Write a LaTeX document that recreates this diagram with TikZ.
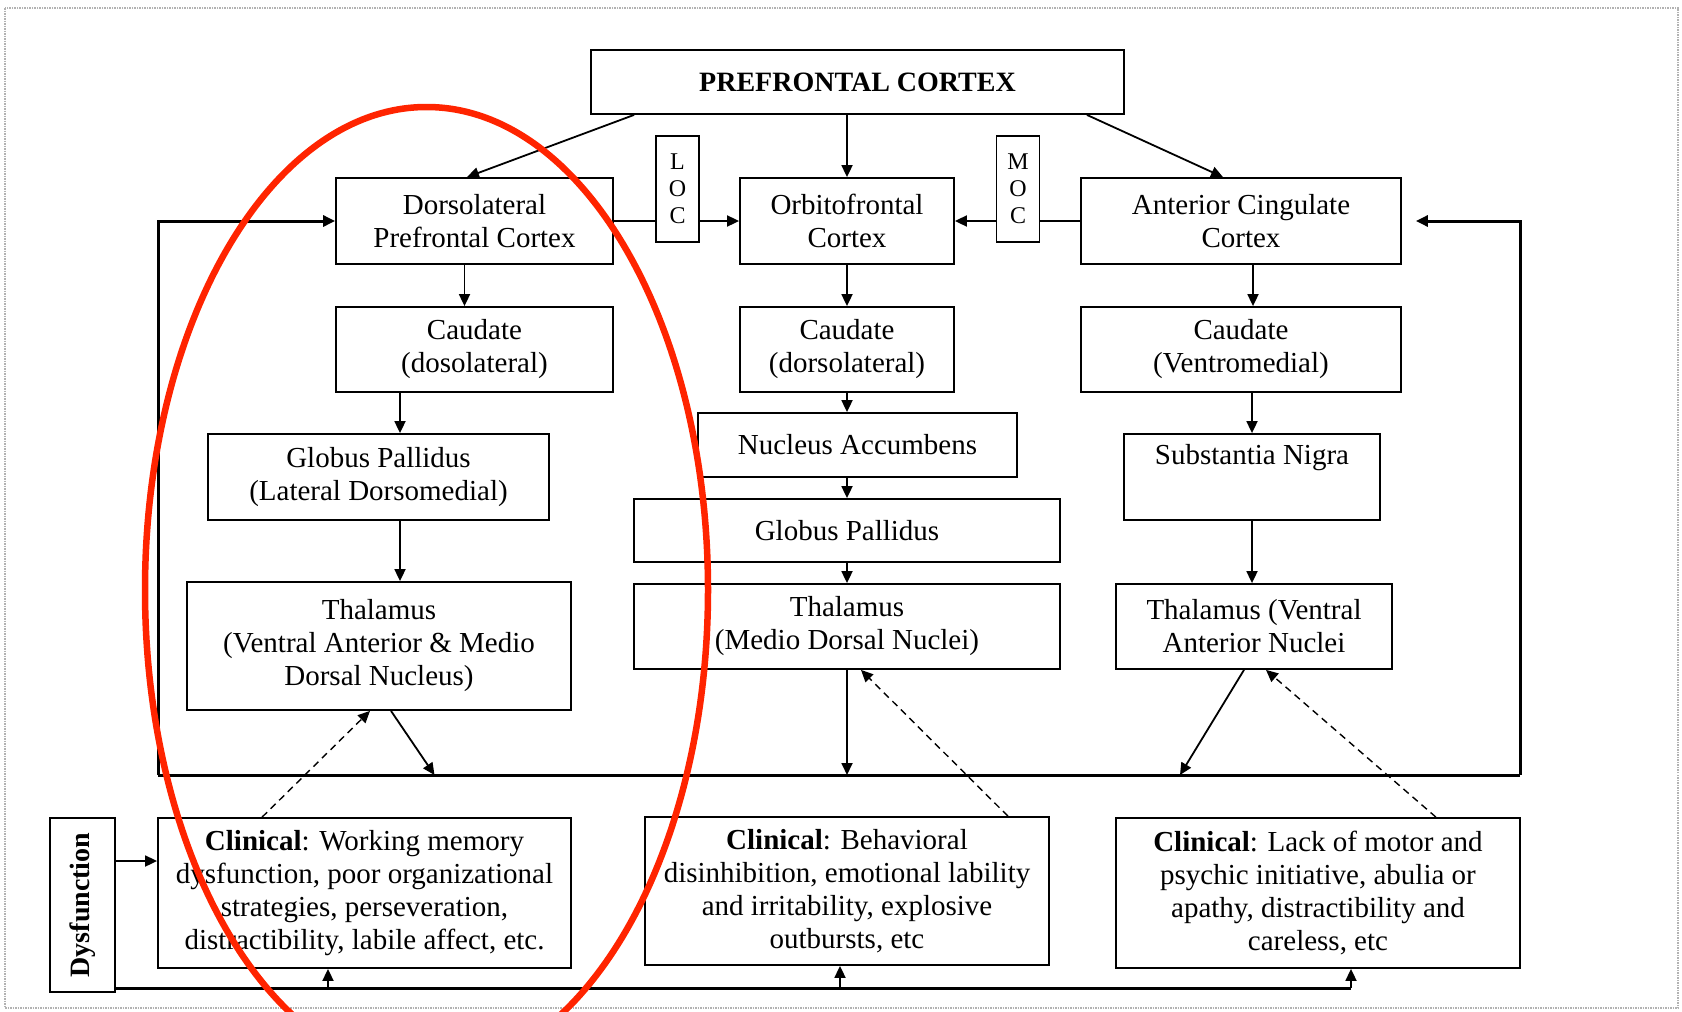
\documentclass[tikz,border=0pt]{standalone}
\usepackage{fontspec}
\setmainfont{Liberation Serif}
\usetikzlibrary{arrows.meta}
\definecolor{markred}{RGB}{255,36,0}

\begin{document}
\begin{tikzpicture}[x=1pt,y=-1pt,
  box/.style={draw, line width=1.8pt, inner sep=0pt, align=center, font=\fontsize{29}{33}\selectfont},
  letters/.style={box, font=\fontsize{24}{27}\selectfont, minimum width=43pt, minimum height=106pt},
  conn/.style={line width=1.8pt},
  arr/.style={conn, -{Triangle[length=12pt,width=11pt]}},
  darr/.style={line width=1.4pt, dash pattern=on 7pt off 5pt, -{Triangle[length=12pt,width=11pt]}},
  loopline/.style={line width=3pt}]
  \useasboundingbox (0,0) rectangle (1682,1012);
  \draw[gray!60, densely dotted, line width=1.5pt] (5,8) rectangle (1678,1008);

  \node[box, font=\fontsize{28}{33}\selectfont\bfseries, minimum width=533pt, minimum height=64pt] (pfc) at (857.5,82) {PREFRONTAL CORTEX};
  \node[letters] (loc) at (677.5,189) {L\\O\\C};
  \node[letters] (moc) at (1018,189) {M\\O\\C};

  \node[box, minimum width=277pt, minimum height=86pt] (dlpfc) at (474.5,221) {Dorsolateral\\Prefrontal Cortex};
  \node[box, minimum width=214pt, minimum height=86pt] (ofc) at (847,221) {Orbitofrontal\\Cortex};
  \node[box, minimum width=320pt, minimum height=86pt] (acc) at (1241,221) {Anterior Cingulate\\Cortex};

  \node[box, minimum width=277pt, minimum height=85pt] (caudL) at (474.5,349.5) {Caudate\\(dosolateral)};
  \node[box, minimum width=214pt, minimum height=85pt] (caudC) at (847,349.5) {Caudate\\(dorsolateral)};
  \node[box, minimum width=320pt, minimum height=85pt] (caudR) at (1241,349.5) {Caudate\\(Ventromedial)};

  \node[box, minimum width=341pt, minimum height=86pt] (gpL) at (378.5,477) {Globus Pallidus\\(Lateral Dorsomedial)};
  \node[box, minimum width=319pt, minimum height=64pt] (nacc) at (857.5,445) {Nucleus Accumbens};
  \node[box, minimum width=256pt, minimum height=86pt] (sn) at (1252,477) {Substantia Nigra\\[3pt]\strut};
  \node[box, minimum width=426pt, minimum height=63pt] (gpC) at (847,530.5) {Globus Pallidus};

  \node[box, minimum width=384pt, minimum height=128pt] (thL) at (379,646) {Thalamus\\(Ventral Anterior \& Medio\\Dorsal Nucleus)};
  \node[box, minimum width=426pt, minimum height=85pt] (thC) at (847,626.5) {Thalamus\\(Medio Dorsal Nuclei)};
  \node[box, minimum width=276pt, minimum height=85pt] (thR) at (1254,626.5) {Thalamus (Ventral\\Anterior Nuclei};

  \node[box, minimum width=413pt, minimum height=150pt] (clinL) at (364.5,893) {\textbf{Clinical}: Working memory\\dysfunction, poor organizational\\strategies, perseveration,\\distractibility, labile affect, etc.};
  \node[box, minimum width=404pt, minimum height=148pt] (clinC) at (847,891) {\textbf{Clinical}: Behavioral\\disinhibition, emotional lability\\and irritability, explosive\\outbursts, etc};
  \node[box, minimum width=404pt, minimum height=150pt] (clinR) at (1318,893) {\textbf{Clinical}: Lack of motor and\\psychic initiative, abulia or\\apathy, distractibility and\\careless, etc};
  \node[box, font=\fontsize{28}{33}\selectfont\bfseries, rotate=90, minimum width=174pt, minimum height=65pt] (dys) at (82.5,905) {Dysfunction};

  \coordinate (busL) at (158,775);
  \coordinate (busR) at (1520,775);
  \coordinate (fb) at (115,988);

  \draw[arr] ([xshift=44pt]pfc.south west) -- ([xshift=-7.5pt]dlpfc.north);
  \draw[arr] (ofc.north |- pfc.south) -- (ofc.north);
  \draw[arr] ([xshift=-38pt]pfc.south east) -- ([xshift=-18pt]acc.north);
  \draw[conn] (dlpfc.east) -- (dlpfc.east -| loc.west);
  \draw[arr] (dlpfc.east -| loc.east) -- (ofc.west);
  \draw[conn] (acc.west) -- (acc.west -| moc.east);
  \draw[arr] (acc.west -| moc.west) -- (ofc.east);

  \draw[arr] ([xshift=-10pt]dlpfc.south) -- ([xshift=-10pt]caudL.north);
  \draw[arr] ([xshift=21.5pt]gpL.north |- caudL.south) -- ([xshift=21.5pt]gpL.north);
  \draw[arr] ([xshift=21.5pt]gpL.south) -- ([xshift=21.5pt]gpL.south |- thL.north);
  \draw[arr] (ofc.south) -- (caudC.north);
  \draw[arr] (caudC.south) -- (caudC.south |- nacc.north);
  \draw[arr] (caudC.south |- nacc.south) -- (gpC.north);
  \draw[arr] (gpC.south) -- (thC.north);
  \draw[arr] ([xshift=12pt]acc.south) -- ([xshift=12pt]caudR.north);
  \draw[arr] (sn.north |- caudR.south) -- (sn.north);
  \draw[arr] (sn.south) -- (sn.south |- thR.north);

  \draw[loopline] (busL) -- (busR);
  \draw[loopline, -{Triangle[length=12pt,width=11pt]}] (busL) -- (busL |- dlpfc.west) -- (dlpfc.west);
  \draw[loopline, -{Triangle[length=12pt,width=11pt]}] (busR) -- (busR |- acc.east) -- ([xshift=14pt]acc.east);
  \draw[arr] ([xshift=12pt]thL.south) -- ([xshift=276.5pt]busL);
  \draw[arr] (thC.south) -- (thC.south |- busL);
  \draw[arr] ([xshift=-10pt]thR.south) -- ([xshift=-340pt]busR);

  \draw[darr] ([xshift=105pt]clinL.north west) -- ([xshift=-9pt]thL.south);
  \draw[darr] ([xshift=-42pt]clinC.north east) -- ([xshift=14pt]thC.south);
  \draw[darr] ([xshift=-85pt]clinR.north east) -- ([xshift=12pt]thR.south);

  \draw[arr] ([yshift=44pt]dys.south) -- ([yshift=44pt]dys.south -| clinL.west);
  \draw[loopline] (fb) -- ([xshift=33pt]clinR.south |- fb);
  \draw[arr] ([xshift=-36.5pt]clinL.south |- fb) -- ([xshift=-36.5pt]clinL.south);
  \draw[arr] ([xshift=-7pt]clinC.south |- fb) -- ([xshift=-7pt]clinC.south);
  \draw[arr] ([xshift=33pt]clinR.south |- fb) -- ([xshift=33pt]clinR.south);

  \draw[markred, line width=6.5pt] (426.5,590) ellipse [x radius=281.5pt, y radius=483pt];
\end{tikzpicture}
\end{document}
